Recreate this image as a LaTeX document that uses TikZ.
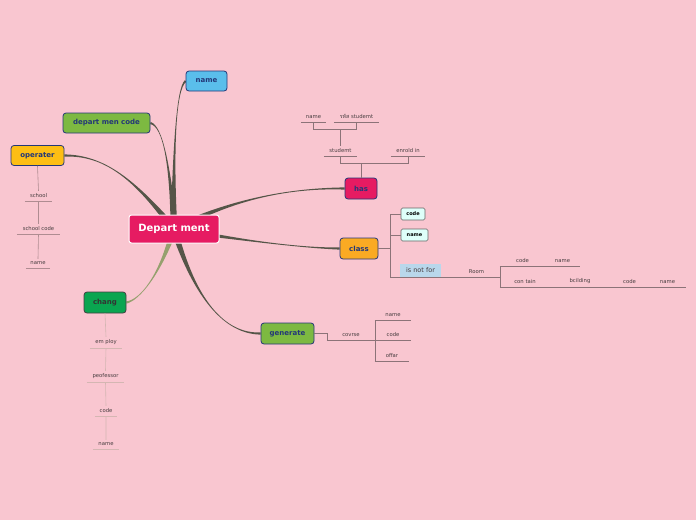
\documentclass[tikz,border=0pt]{standalone}
\usepackage{fontspec}
\setmainfont{DejaVu Sans}
\newfontfamily\thaifont[Script=Thai]{Loma}
\usetikzlibrary{calc,backgrounds}
\definecolor{bgpink}{RGB}{249,198,208}
\definecolor{crim}{RGB}{230,27,98}
\definecolor{sky}{RGB}{90,190,235}
\definecolor{lime}{RGB}{125,185,65}
\definecolor{amber}{RGB}{253,190,20}
\definecolor{orng}{RGB}{250,170,35}
\definecolor{emer}{RGB}{10,165,80}
\definecolor{navy}{RGB}{35,55,120}
\definecolor{trunk}{RGB}{85,85,72}
\definecolor{olive}{RGB}{150,160,110}
\definecolor{twigc}{RGB}{140,115,120}
\definecolor{twigm}{RGB}{175,140,145}
\definecolor{twigl}{RGB}{212,182,178}
\definecolor{ink}{RGB}{70,60,62}
\definecolor{mint}{RGB}{222,255,250}
\definecolor{ice}{RGB}{185,215,235}
\tikzset{
  root/.style={draw=white,line width=1pt,fill=crim,rounded corners=2.5pt,text=white,
    font=\fontsize{10}{12}\selectfont\bfseries,minimum width=90pt,minimum height=28pt},
  topic/.style={draw=navy,line width=0.8pt,rounded corners=3pt,text=navy,
    font=\fontsize{7}{8}\selectfont\bfseries,minimum height=20pt,inner sep=1pt},
  chip/.style={draw=black!60,line width=0.6pt,fill=mint,rounded corners=1.5pt,
    font=\fontsize{5}{6}\selectfont\bfseries,minimum height=12pt,inner sep=1pt},
  lbl/.style={font=\fontsize{5.3}{6}\selectfont,text=ink,inner xsep=0pt,inner ysep=2.8pt,anchor=south},
  ul/.style={lbl,append after command={(\tikzlastnode.south west) edge[draw=#1,line width=0.6pt] (\tikzlastnode.south east)}},
  twig/.style={draw=twigc,line width=0.6pt},
}
% tapered branch: colour, start, control 1, control 2, end
\newcommand\branchto[5]{%
  \fill[#1] ($(#2)!3.4pt!90:(#3)$) .. controls (#3) and (#4) .. ($(#5)!1.1pt!-90:(#4)$)
    -- ($(#5)!1.1pt!90:(#4)$) .. controls (#4) and (#3) .. ($(#2)!3.4pt!-90:(#3)$) -- cycle;}
\begin{document}
\begin{tikzpicture}[x=1pt,y=-1pt]
  % main topics
  \node[root] (dm) at (174,229) {Depart ment};
  \node[topic,fill=sky,minimum width=41pt] (nm0) at (206.5,81) {name};
  \node[topic,fill=lime,minimum width=87pt] (dmc) at (106.5,123) {depart men code};
  \node[topic,fill=amber,minimum width=53pt] (op) at (37.5,155.5) {operater};
  \node[topic,fill=crim,minimum width=32pt,minimum height=21pt] (has) at (361,188.5) {has};
  \node[topic,fill=orng,minimum width=38pt,minimum height=21pt] (class) at (359,248.5) {class};
  \node[topic,fill=emer,draw=black!75,text=black!80,minimum width=42pt,minimum height=21pt] (chg) at (105,302.5) {chang};
  \node[topic,fill=lime,minimum width=53pt,minimum height=21pt] (gen) at (287.5,333.5) {generate};

  % has
  \node[ul=twigc,minimum width=33pt] (stu) at (340.5,156) {studemt};
  \node[ul=twigc,minimum width=34pt] (enr) at (408,156) {enrold in};
  \node[ul=twigc,minimum width=25pt] (nm1) at (313.5,122) {name};
  \node[ul=twigc,minimum width=45pt] (rid) at (356.5,122) {{\thaifont รหัส} studemt};
  \draw[twig] (stu.south) -- ++(0,7) coordinate (h1) -| (enr.south);
  \draw[twig] (has.north) -- (has.north |- h1);
  \draw[twig] (nm1.south) -- ++(0,7) coordinate (s1) -| (rid.south);
  \draw[twig] (stu.north) -- (stu.north |- s1);

  % class
  \node[chip,minimum width=24pt] (cd1) at (413,214) {code};
  \node[chip,minimum width=27pt] (nmc) at (414.5,235) {name};
  \node[fill=ice,text=ink,font=\fontsize{6.5}{8}\selectfont,minimum width=41pt,minimum height=13pt,inner sep=1pt] (isn) at (420.5,270.5) {is not for};
  \node[ul=twigc,minimum width=47pt] (room) at (476.5,277) {Room};
  \node[ul=twigc,minimum width=45pt] (cd2) at (522.5,266) {code};
  \node[ul=twigc,minimum width=35pt] (nm2) at (562.5,266) {name};
  \node[ul=twigc,minimum width=50pt] (con) at (525,287) {con tain};
  \node[ul=twigc,minimum width=60pt] (bld) at (580,287) {bcilding};
  \node[ul=twigc,minimum width=39pt] (cd3) at (629.5,287) {code};
  \node[ul=twigc,minimum width=37pt] (nm3) at (667.5,287) {name};
  \draw[twig] (class.east) -- ++(12,0) coordinate (k1);
  \draw[twig] (cd1.west) -| (k1) |- (room.south west);
  \draw[twig] (nmc.west) -- (nmc.west -| k1);
  \draw[twig] (cd2.south west) -- (con.south west);

  % generate
  \node[ul=twigc,minimum width=48pt] (cov) at (351,340) {covrse};
  \node[ul=twigc,minimum width=36pt] (g1) at (393,320) {name};
  \node[ul=twigc,minimum width=36pt] (g2) at (393,340) {code};
  \node[ul=twigc,minimum width=34pt] (g3) at (392,361) {offar};
  \draw[twig] (gen.east) -- ++(13,0) |- (cov.south west);
  \draw[twig] (g1.south west) -- (g3.south west);

  % operater
  \node[ul=twigm,minimum width=27pt] (sc) at (38.5,201) {school};
  \node[ul=twigm,minimum width=43pt] (scc) at (38.5,234) {school code};
  \node[ul=twigm,minimum width=24pt] (on) at (38,268) {name};
  \draw[twig,draw=twigm] (op.south) -- (sc.north) (sc.south) -- (scc.north) (scc.south) -- (on.north);

  % chang
  \node[ul=twigl,minimum width=32pt] (ep) at (106,348) {em ploy};
  \node[ul=twigl,minimum width=37pt] (pf) at (105.5,382) {peofessor};
  \node[ul=twigl,minimum width=22pt] (cd4) at (106,416) {code};
  \node[ul=twigl,minimum width=26pt] (nm4) at (106,449) {name};
  \draw[twig,draw=twigl] (chg.south) -- (ep.north) (ep.south) -- (pf.north) (pf.south) -- (cd4.north) (cd4.south) -- (nm4.north);

  \begin{scope}[on background layer]
    \fill[bgpink] (0,0) rectangle (696,520);
    \branchto{trunk}{dm.center}{173,150}{176,88}{nm0.west}
    \branchto{trunk}{dm.center}{170,165}{163,126}{dmc.east}
    \branchto{trunk}{dm.center}{135,180}{105,155}{op.east}
    \branchto{trunk}{dm.center}{240,195}{300,188}{has.west}
    \branchto{trunk}{dm.center}{240,240}{300,248}{class.west}
    \branchto{trunk}{dm.center}{195,300}{225,334}{gen.west}
    \branchto{olive}{dm.center}{160,275}{140,300}{chg.east}
  \end{scope}
\end{tikzpicture}
\end{document}
